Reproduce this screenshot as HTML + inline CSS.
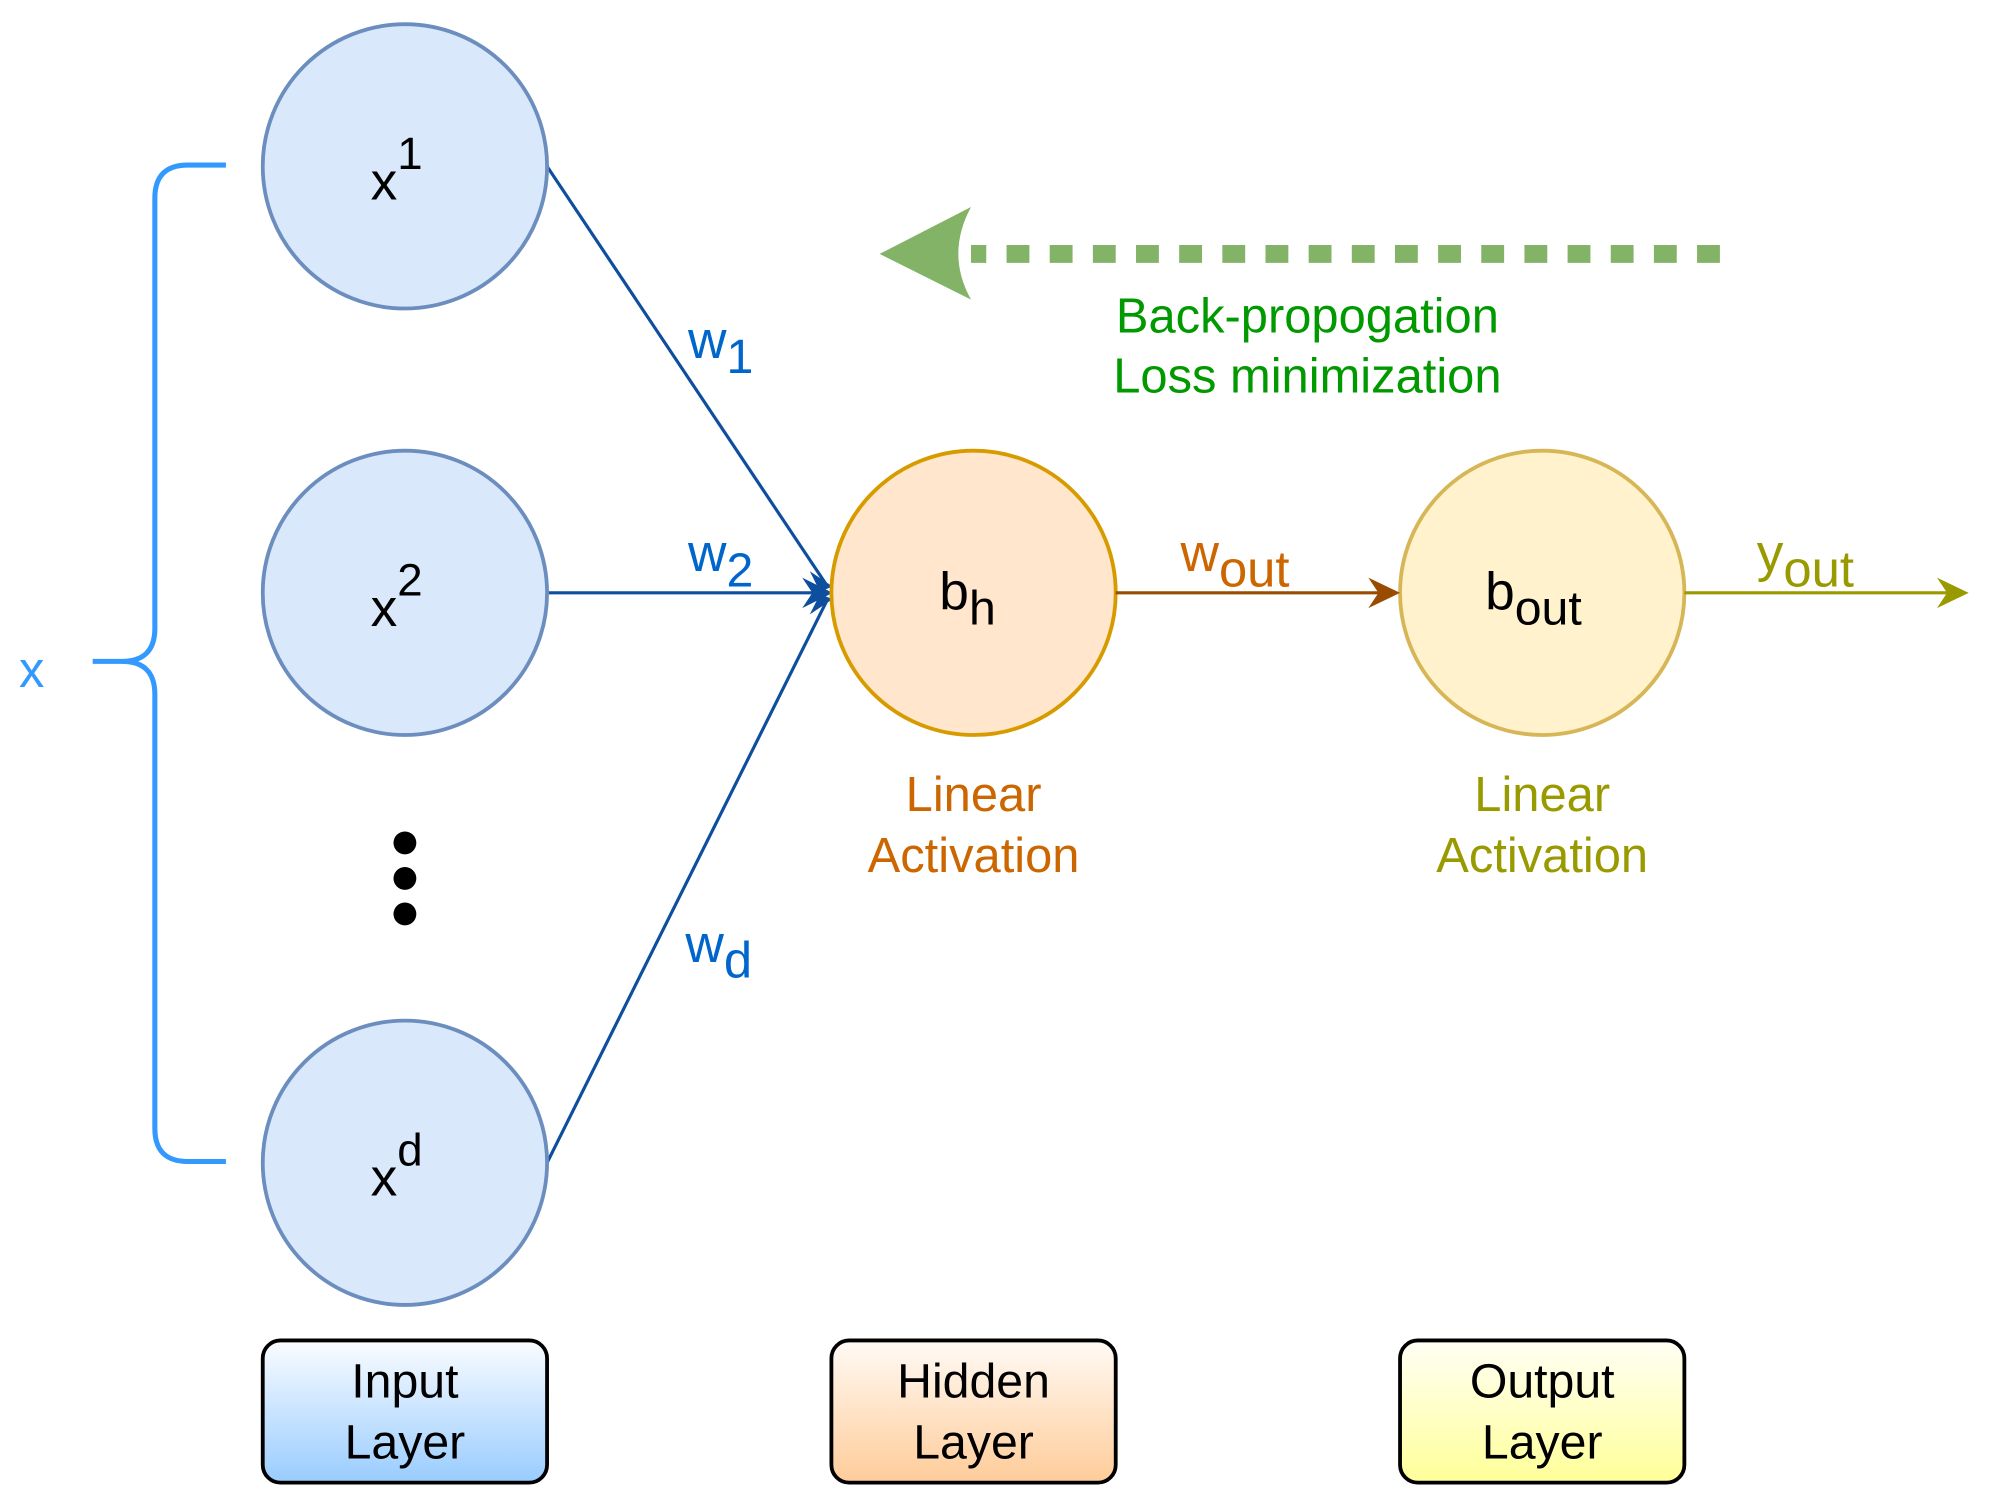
<!DOCTYPE html>
<html><head><style>html,body{margin:0;padding:0;background:#fff}svg{display:block}</style></head><body>
<svg width="1989" height="1503" viewBox="0 0 1567 1184" xmlns="http://www.w3.org/2000/svg" font-family="Liberation Sans, sans-serif">
<defs>
<linearGradient id="gi" x1="0" y1="0" x2="0" y2="1"><stop offset="0" stop-color="#fafcff"/><stop offset="1" stop-color="#99ccff"/></linearGradient>
<linearGradient id="gh" x1="0" y1="0" x2="0" y2="1"><stop offset="0" stop-color="#fffaf5"/><stop offset="1" stop-color="#ffcc99"/></linearGradient>
<linearGradient id="go" x1="0" y1="0" x2="0" y2="1"><stop offset="0" stop-color="#fffff5"/><stop offset="1" stop-color="#ffff99"/></linearGradient>
</defs>
<path d="M178 130 H148 Q122 130 122 156 V495 Q122 521 96 521 H73 M96 521 Q122 521 122 547 V889 Q122 915 148 915 H178" fill="none" stroke="#3399ff" stroke-width="4"/>
<text x="25" y="541" font-size="40" fill="#3399ff" text-anchor="middle">x</text>
<g stroke="#0d4f9e" stroke-width="2.5" fill="none">
<line x1="431" y1="131" x2="652" y2="462"/>
<line x1="431" y1="467" x2="645" y2="467"/>
<line x1="431" y1="916" x2="652" y2="472"/>
</g>
<path d="M656 467 L632 455 L640 467 L632 479 Z" fill="#0d4f9e"/>
<path d="M656 462 L638 450 L646 466 Z" fill="#0d4f9e"/>
<path d="M656 472 L638 484 L646 468 Z" fill="#0d4f9e"/>
<g fill="#dae8fc" stroke="#6c8ebf" stroke-width="3">
<circle cx="319" cy="131" r="112"/><circle cx="319" cy="467" r="112"/><circle cx="319" cy="916" r="112"/>
</g>
<circle cx="767" cy="467" r="112" fill="#ffe6cc" stroke="#d79b00" stroke-width="3"/>
<circle cx="1215" cy="467" r="112" fill="#fff2cc" stroke="#d6b656" stroke-width="3"/>
<g font-size="42" fill="#000">
<text x="292" y="157">x<tspan font-size="36" dy="-24">1</tspan></text>
<text x="292" y="493">x<tspan font-size="36" dy="-24">2</tspan></text>
<text x="292" y="942">x<tspan font-size="36" dy="-24">d</tspan></text>
<text x="740" y="480">b<tspan font-size="38" dy="12">h</tspan></text>
<text x="1170" y="480">b<tspan font-size="38" dy="12">out</tspan></text>
</g>
<circle cx="319" cy="664" r="9"/><circle cx="319" cy="692" r="9"/><circle cx="319" cy="720" r="9"/>
<g font-size="42" fill="#0066cc">
<text x="542" y="282">w<tspan font-size="38" dy="12">1</tspan></text>
<text x="542" y="450">w<tspan font-size="38" dy="12">2</tspan></text>
<text x="540" y="758">w<tspan font-size="40" dy="12">d</tspan></text>
</g>
<line x1="879" y1="467" x2="1090" y2="467" stroke="#994c00" stroke-width="2.5"/>
<path d="M1103 467 L1078 455 L1086 467 L1078 479 Z" fill="#994c00"/>
<text x="930" y="450" font-size="42" fill="#cc6600">w<tspan font-size="40" dy="12">out</tspan></text>
<line x1="1327" y1="467" x2="1538" y2="467" stroke="#999900" stroke-width="2.5"/>
<path d="M1551 467 L1526 455 L1534 467 L1526 479 Z" fill="#999900"/>
<text x="1384" y="450" font-size="42" fill="#999900">y<tspan font-size="40" dy="12">out</tspan></text>
<line x1="1355" y1="200" x2="765" y2="200" stroke="#82b366" stroke-width="14" stroke-dasharray="18 16"/>
<path d="M693 200 L765 163 Q745 200 765 236 Z" fill="#82b366"/>
<g font-size="38.5" fill="#009900" text-anchor="middle">
<text x="1030" y="262">Back-propogation</text>
<text x="1030" y="309">Loss minimization</text>
</g>
<g font-size="38.5" text-anchor="middle">
<text x="767" y="639" fill="#cc6600">Linear</text>
<text x="767" y="687" fill="#cc6600">Activation</text>
<text x="1215" y="639" fill="#999900">Linear</text>
<text x="1215" y="687" fill="#999900">Activation</text>
</g>
<g stroke="#000" stroke-width="3">
<rect x="207" y="1056" width="224" height="112" rx="14" fill="url(#gi)"/>
<rect x="655" y="1056" width="224" height="112" rx="14" fill="url(#gh)"/>
<rect x="1103" y="1056" width="224" height="112" rx="14" fill="url(#go)"/>
</g>
<g font-size="38" text-anchor="middle" fill="#000">
<text x="319" y="1101">Input</text><text x="319" y="1149">Layer</text>
<text x="767" y="1101">Hidden</text><text x="767" y="1149">Layer</text>
<text x="1215" y="1101">Output</text><text x="1215" y="1149">Layer</text>
</g>
</svg>
</body></html>
